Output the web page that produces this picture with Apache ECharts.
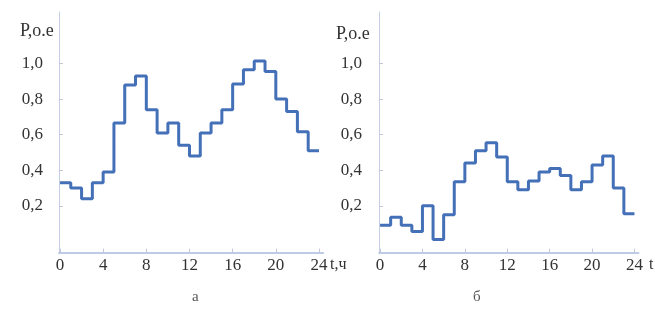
<!DOCTYPE html>
<html>
<head>
<meta charset="utf-8">
<script src="https://cdn.jsdelivr.net/npm/echarts@6/dist/echarts.min.js"></script>
<style>
html,body{margin:0;padding:0;background:#fff;}
#c{width:655px;height:311px;}
</style>
</head>
<body>
<div id="c"></div>
<script>
// Hour boundaries (t, ч)
var hours = [0,1,2,3,4,5,6,7,8,9,10,11,12,13,14,15,16,17,18,19,20,21,22,23,24];
// Chart "а": hourly load, relative units
var loadA = [0.33,0.30,0.24,0.33,0.39,0.665,0.88,0.93,0.74,0.61,0.665,0.54,0.48,0.61,0.665,0.74,0.885,0.965,1.015,0.955,0.80,0.73,0.617,0.51];
// Chart "б": hourly load, relative units
var loadB = [0.09,0.135,0.09,0.055,0.20,0.01,0.15,0.335,0.44,0.51,0.555,0.475,0.335,0.29,0.34,0.39,0.41,0.37,0.29,0.335,0.43,0.48,0.30,0.155];
// Tick values and labels
var xTickValues = [0,4,8,12,16,20,24];
var yTickValues = [0.2,0.4,0.6,0.8,1.0];
var yTickLabels = ['0,2','0,4','0,6','0,8','1,0'];
var yName = 'Р,о.е';
var xNameA = 't,ч';
var xNameB = 't';
var panelLabels = ['а','б'];

function stepData(vals){
  var d = [];
  for (var i = 0; i < vals.length; i++) d.push([hours[i], vals[i]]);
  d.push([hours[vals.length], vals[vals.length-1]]);
  return d;
}

var font = '"Liberation Serif","DejaVu Serif",serif';
var txt = '#333333';
var axisCol = '#a9b9de';

function xAx(idx){
  return {
    type:'value', gridIndex:idx, min:-0.1, max:24.4,
    axisLine:{show:true, onZero:false, lineStyle:{color:axisCol, width:1.5}},
    axisTick:{show:true, inside:true, length:4, customValues:xTickValues, lineStyle:{color:'#c0c8d8'}},
    axisLabel:{customValues:xTickValues, color:txt, fontFamily:font, fontSize:17, margin:4},
    splitLine:{show:false}
  };
}
function yAx(idx, margin){
  return {
    type:'value', gridIndex:idx, min:-0.064, max:1.29,
    axisLine:{show:true, onZero:false, lineStyle:{color:'#c3cde6', width:1}},
    axisTick:{show:true, inside:true, length:4, customValues:yTickValues, lineStyle:{color:'#c0c8d8'}},
    axisLabel:{customValues:yTickValues, color:txt, fontFamily:font, fontSize:17, margin:margin,
      formatter:function(v){ var k = yTickValues.indexOf(Math.round(v*10)/10); return k>=0 ? yTickLabels[k] : ''; }},
    splitLine:{show:false}
  };
}

var chart = echarts.init(document.getElementById('c'), null, {renderer:'canvas'});
chart.setOption({
  animation:false,
  backgroundColor:'#ffffff',
  grid:[
    {left:58.9, top:12, width:264.4, height:240.7},
    {left:379, top:12, width:259.7, height:240.7}
  ],
  xAxis:[xAx(0), xAx(1)],
  yAxis:[yAx(0, 16), yAx(1, 17)],
  series:[
    {type:'line', xAxisIndex:0, yAxisIndex:0, step:'end', symbol:'none', data:stepData(loadA),
     lineStyle:{color:'#4470b8', width:3}},
    {type:'line', xAxisIndex:1, yAxisIndex:1, step:'end', symbol:'none', data:stepData(loadB),
     lineStyle:{color:'#4470b8', width:3}}
  ],
  graphic:[
    {type:'text', left:20, top:22, style:{text:yName, fill:txt, font:'18px '+font}},
    {type:'text', left:336, top:25, style:{text:yName, fill:txt, font:'18px '+font}},
    {type:'text', left:330, top:257, style:{text:xNameA, fill:txt, font:'16px '+font}},
    {type:'text', left:649, top:257, style:{text:xNameB, fill:txt, font:'16px '+font}},
    {type:'text', left:192, top:290, style:{text:panelLabels[0], fill:'#555', font:'15px '+font}},
    {type:'text', left:473, top:290, style:{text:panelLabels[1], fill:'#555', font:'15px '+font}}
  ]
});
</script>
</body>
</html>
